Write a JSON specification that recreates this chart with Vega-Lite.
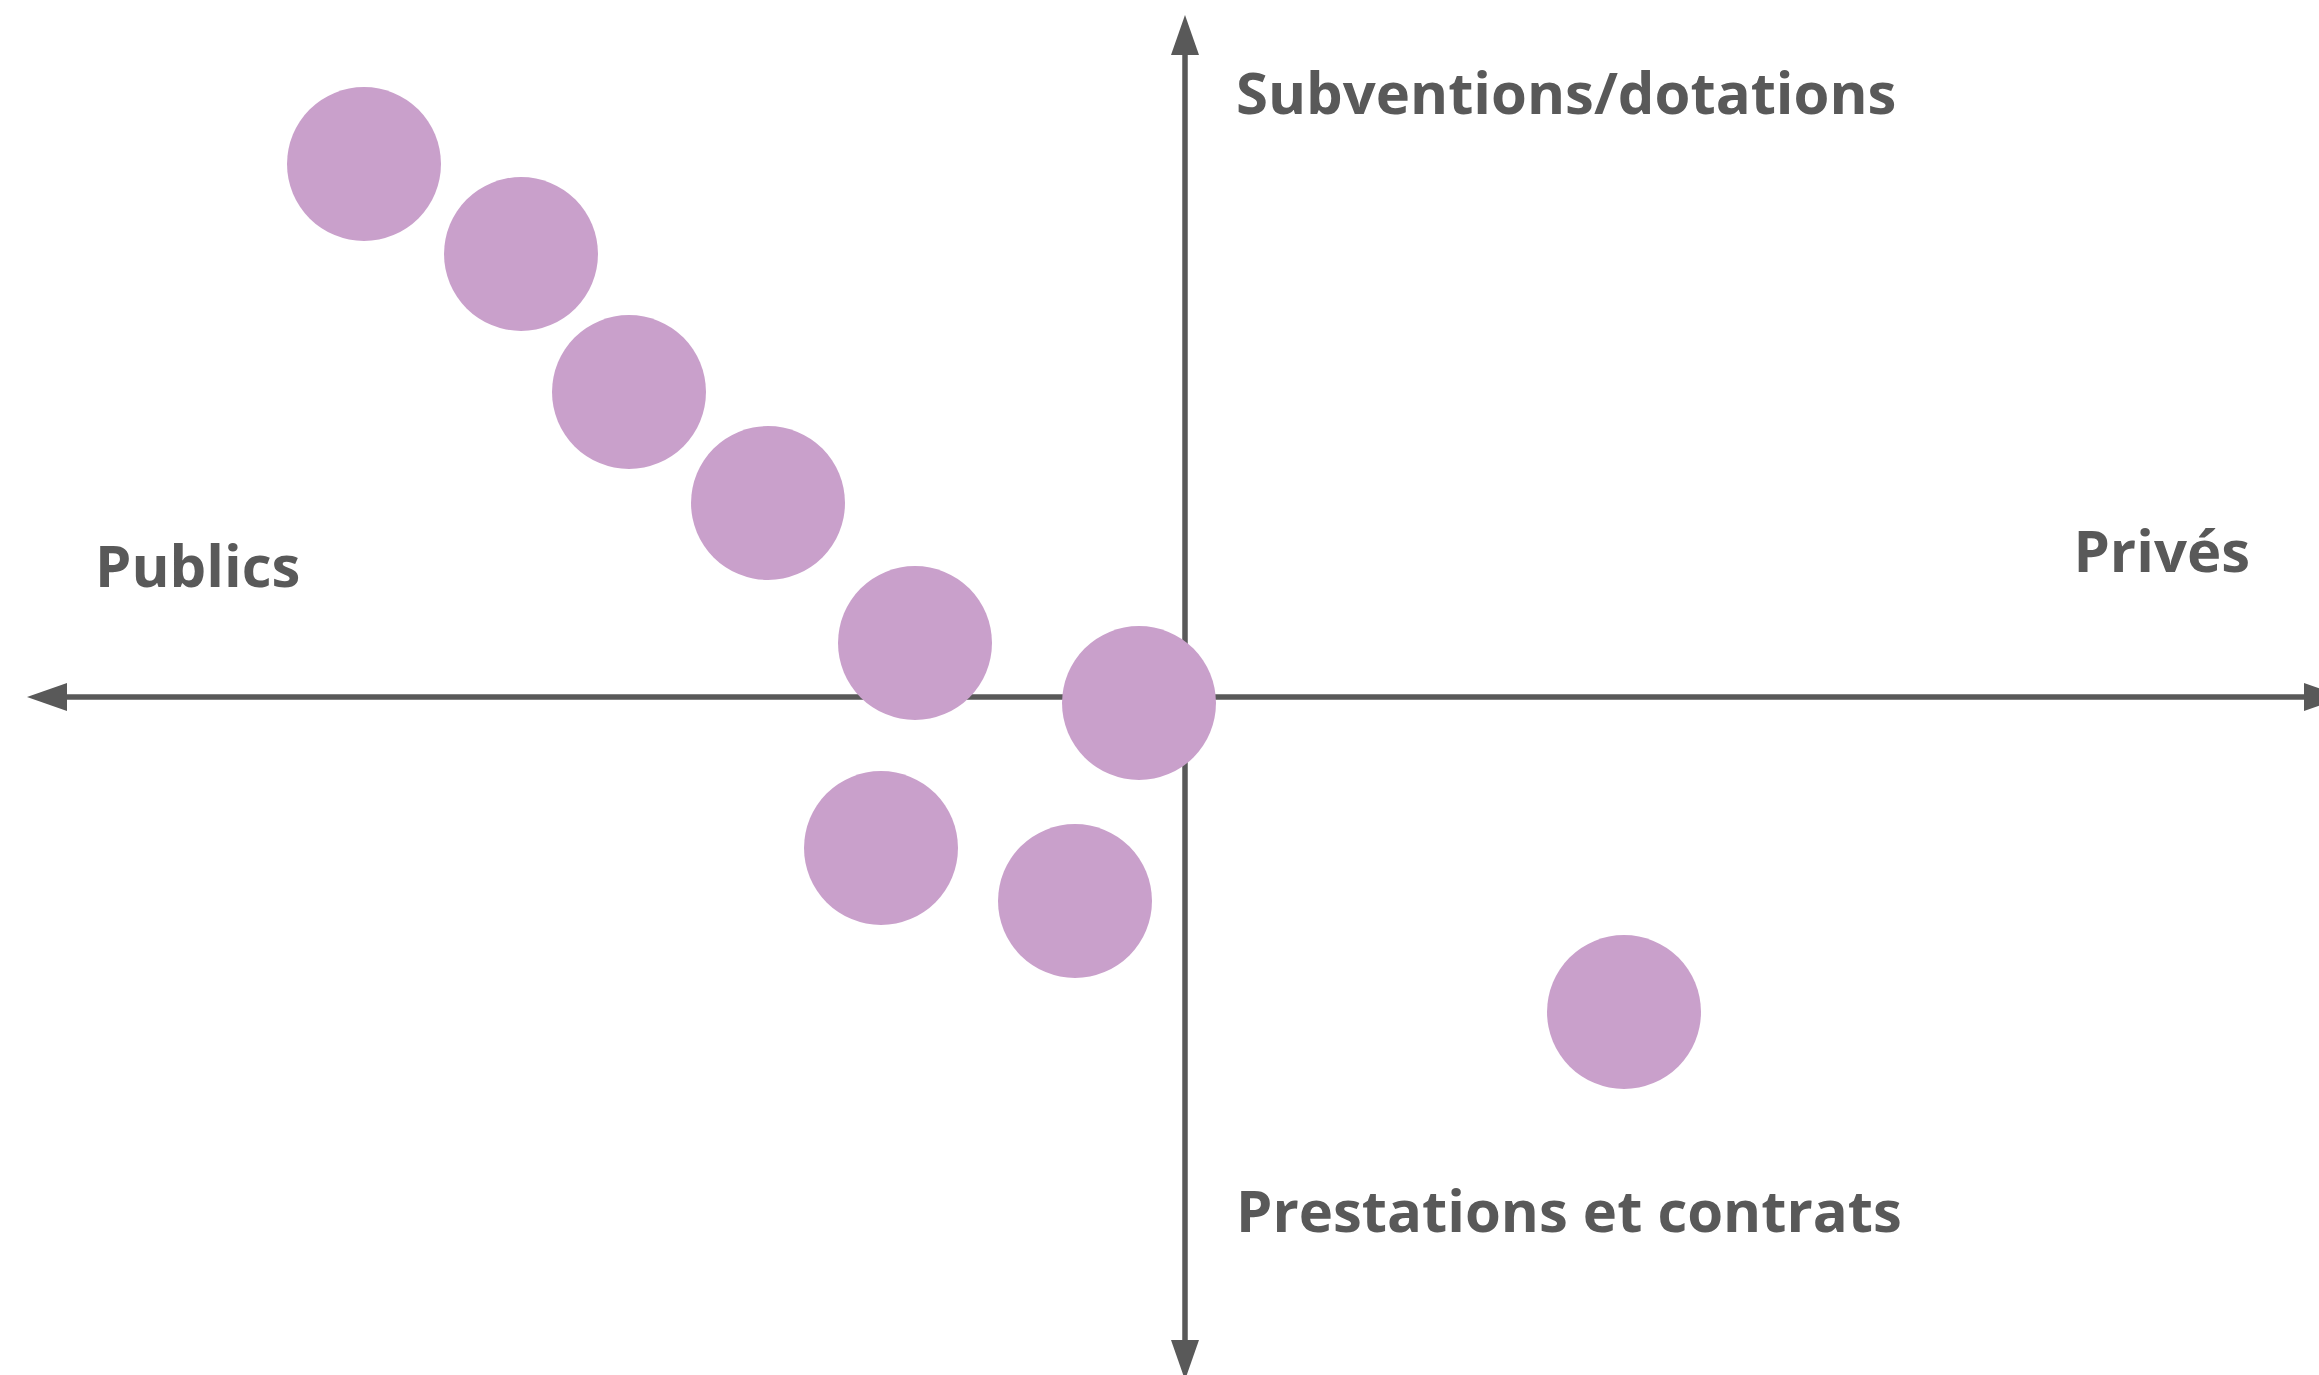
{
  "$schema": "https://vega.github.io/schema/vega-lite/v6.json",
  "width": 2319,
  "height": 1375,
  "autosize": {"type": "none"},
  "padding": 0,
  "background": "white",
  "config": {"view": {"stroke": null}},
  "datasets": {
    "points": [
      {"x": -82.1, "y": 53.3},
      {"x": -66.4, "y": 44.3},
      {"x": -55.6, "y": 30.5},
      {"x": -41.7, "y": 19.4},
      {"x": -27.0, "y": 5.4},
      {"x": -4.6, "y": -0.6},
      {"x": -30.4, "y": -15.1},
      {"x": -11.0, "y": -20.4},
      {"x": 43.9, "y": -31.5}
    ],
    "axes": [
      {"x1": -113.8, "x2": 113.9, "y1": 0, "y2": 0},
      {"x1": 0, "x2": 0, "y1": -66.3, "y2": 66.2}
    ],
    "heads": [
      {"x": -113.8, "y": 0, "dir": "left"},
      {"x": 113.9, "y": 0, "dir": "right"},
      {"x": 0, "y": 66.2, "dir": "up"},
      {"x": 0, "y": -66.3, "dir": "down"}
    ],
    "labels": [
      {"x": 5.1, "y": 58.3, "label": "Subventions/dotations", "anchor": "start"},
      {"x": -109.0, "y": 11.0, "label": "Publics", "anchor": "start"},
      {"x": 106.5, "y": 12.5, "label": "Privés", "anchor": "end"},
      {"x": 5.1, "y": -53.5, "label": "Prestations et contrats", "anchor": "start"}
    ]
  },
  "layer": [
    {
      "data": {"name": "axes"},
      "mark": {"type": "rule", "color": "#595959", "strokeWidth": 5.5, "clip": false},
      "encoding": {
        "x": {"field": "x1", "type": "quantitative", "scale": {"domain": [-118.5, 113.4], "nice": false, "zero": false}, "axis": null},
        "x2": {"field": "x2"},
        "y": {"field": "y1", "type": "quantitative", "scale": {"domain": [-67.8, 69.7], "nice": false, "zero": false}, "axis": null},
        "y2": {"field": "y2"}
      }
    },
    {
      "data": {"name": "heads"},
      "mark": {"type": "point", "filled": true, "opacity": 1, "color": "#595959", "size": 1600, "clip": false},
      "encoding": {
        "x": {"field": "x", "type": "quantitative"},
        "y": {"field": "y", "type": "quantitative"},
        "shape": {
          "field": "dir", "type": "nominal", "legend": null,
          "scale": {
            "domain": ["left", "right", "up", "down"],
            "range": ["M-1,0L1,-0.7L1,0.7Z", "M1,0L-1,-0.7L-1,0.7Z", "M0,-1L-0.7,1L0.7,1Z", "M0,1L-0.7,-1L0.7,-1Z"]
          }
        }
      }
    },
    {
      "data": {"name": "points"},
      "mark": {"type": "point", "filled": true, "opacity": 1, "color": "#c9a0cb", "size": 23700, "shape": "circle"},
      "encoding": {
        "x": {"field": "x", "type": "quantitative"},
        "y": {"field": "y", "type": "quantitative"}
      }
    },
    {
      "data": {"name": "labels"},
      "transform": [{"filter": "datum.anchor == 'start'"}],
      "mark": {"type": "text", "align": "left", "baseline": "alphabetic", "font": "Open Sans", "fontWeight": "bold", "fontSize": 58, "color": "#595959"},
      "encoding": {
        "x": {"field": "x", "type": "quantitative"},
        "y": {"field": "y", "type": "quantitative"},
        "text": {"field": "label"}
      }
    },
    {
      "data": {"name": "labels"},
      "transform": [{"filter": "datum.anchor == 'end'"}],
      "mark": {"type": "text", "align": "right", "baseline": "alphabetic", "font": "Open Sans", "fontWeight": "bold", "fontSize": 58, "color": "#595959"},
      "encoding": {
        "x": {"field": "x", "type": "quantitative"},
        "y": {"field": "y", "type": "quantitative"},
        "text": {"field": "label"}
      }
    }
  ]
}
